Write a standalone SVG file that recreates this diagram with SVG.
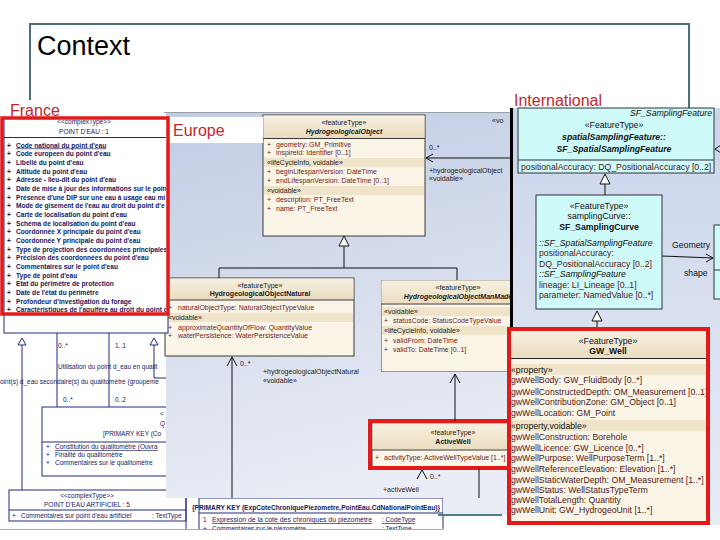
<svg xmlns="http://www.w3.org/2000/svg" width="720" height="540" viewBox="0 0 720 540">
<style>
text{font-family:"Liberation Sans",Arial,Helvetica,sans-serif}
.fr{font-size:6.6px;font-weight:bold;fill:#17175c}
.frn{font-size:6.5px;fill:#17175c}
.nv{stroke:#1f2a78;stroke-width:1;fill:none}
.wb{fill:#fff;stroke:#1f2a78;stroke-width:1}
.eu{font-size:7px;fill:#6a1c1c}
.eus{font-size:7px;fill:#1a1a1a}
.box{fill:#fbf5e8;stroke:#3a3a3a;stroke-width:1}
.band{fill:#efe3c9}
.cy{fill:#cffafa;stroke:#333;stroke-width:1}
.in{font-size:8.7px;fill:#4e1616}
.ins{font-size:8.7px;fill:#111}
.red{fill:none;stroke:#e21a1a;stroke-width:4}
.ln{stroke:#111;stroke-width:1;fill:none}
.tri{fill:#fff;stroke:#111;stroke-width:1}
.lab{font-size:16px;fill:#c0272d}
.c{text-anchor:middle}
.b{font-weight:bold}
.i{font-style:italic}
</style>
<defs>
<linearGradient id="euBg" x1="0" y1="0" x2="0.2" y2="1">
<stop offset="0" stop-color="#c1cce4"/>
<stop offset="1" stop-color="#eaedf5"/>
</linearGradient>
<linearGradient id="inBg" x1="0" y1="0" x2="0" y2="1">
<stop offset="0" stop-color="#cad4eb"/>
<stop offset="1" stop-color="#e8ecf5"/>
</linearGradient>
<linearGradient id="hdr" x1="0" y1="0" x2="0" y2="1">
<stop offset="0" stop-color="#f7f0e0"/>
<stop offset="1" stop-color="#eadcc0"/>
</linearGradient>
<clipPath id="cFr"><rect x="4" y="120" width="162" height="192"/></clipPath>
<clipPath id="cMM"><rect x="381" y="280" width="129" height="92"/></clipPath>
<clipPath id="cAW"><rect x="372" y="423" width="135" height="44"/></clipPath>
<clipPath id="cGW"><rect x="511" y="331" width="195" height="189"/></clipPath>
<clipPath id="cPK"><rect x="186" y="498" width="260" height="31"/></clipPath>
</defs>
<rect x="0" y="0" width="720" height="540" fill="#fff"/>

<g id="title">
<path d="M30,100 V24 H689 V108" stroke="#4d6f77" stroke-width="2" fill="none"/>
<text x="37" y="55" font-size="27" fill="#000">Context</text>
<text class="lab" x="514" y="106">International</text>
</g>

<g id="france-lower">
<g id="qualitometre">
<rect class="wb" x="42" y="407" width="140" height="69"/>
<text class="frn" x="160" y="416">&lt;</text>
<text class="frn" x="160" y="426">Q</text>
<text class="frn" x="103" y="436">[PRIMARY KEY (Co</text>
<line class="nv" x1="42" y1="442" x2="182" y2="442"/>
<text class="frn" x="46" y="449">+</text>
<text class="frn" x="55" y="449" text-decoration="underline">Constitution du qualitomètre (Ouvra</text>
<text class="frn" x="46" y="457">+</text>
<text class="frn" x="55" y="457">Finalité du qualitomètre</text>
<text class="frn" x="46" y="465">+</text>
<text class="frn" x="55" y="465">Commentaires sur le qualitomètre</text>
</g>
<g id="point-eau-artificiel">
<rect class="wb" x="9" y="490" width="177" height="31"/>
<text class="frn c" x="87" y="498">&lt;&lt;complexType&gt;&gt;</text>
<text class="frn c" x="87" y="507">POINT D'EAU ARTIFICIEL : 5</text>
<line class="nv" x1="9" y1="510" x2="186" y2="510"/>
<text class="frn" x="12" y="518">+</text>
<text class="frn" x="21" y="518">Commentaires sur point d'eau artificiel</text>
<text class="frn" x="152" y="518">: TextType</text>
</g>
<g id="pk-table">
<g clip-path="url(#cPK)">
<rect class="wb" x="199" y="498" width="244" height="40"/>
<line class="nv" x1="199" y1="513" x2="443" y2="513"/>
<text class="fr" x="192" y="510" textLength="248" lengthAdjust="spacingAndGlyphs">{PRIMARY KEY (ExpCoteChroniquePiezometre,PointEau.CdNationalPointEau)}</text>
<text class="frn" x="203" y="522">1</text>
<text class="frn" x="212" y="522" text-decoration="underline" textLength="160" lengthAdjust="spacingAndGlyphs">Expression de la cote des chroniques du piézomètre</text>
<text class="frn" x="382" y="522" text-decoration="underline">: CodeType</text>
<text class="frn" x="203" y="531">+</text>
<text class="frn" x="212" y="531">Commentaires sur le piézomètre</text>
<text class="frn" x="382" y="531">: TextType</text>
</g>
<line class="nv" x1="186" y1="498" x2="186" y2="529"/>
</g>
<line x1="0" y1="529.5" x2="443" y2="529.5" stroke="#aaa" stroke-width="1"/>
</g>

<g id="connectors-france">
<polygon points="22,338 18,345 26,345" fill="#fff" stroke="#1f2a78"/>
<path class="nv" d="M22,345 V490"/>
<path class="nv" d="M57,333 V407 M109,333 V407"/>
<polygon points="154,338 150,345 158,345" fill="#fff" stroke="#1f2a78"/>
<path class="nv" d="M154,345 V378 H170"/>
<text class="frn" x="58" y="348">0..*</text>
<text class="frn" x="115" y="348">1..1</text>
<text class="frn" x="58" y="369">Utilisation du point d_eau en qualit</text>
<text class="frn" x="0" y="384">oint(s) d_eau secondaire(s) du qualitomètre (groupeme</text>
<text class="frn" x="63" y="402">0..*</text>
<text class="frn" x="115" y="402">0..2</text>
</g>

<g id="europe-panel">
<path d="M166,112 H511 V515 H443 V498 H166 Z" fill="url(#euBg)"/>
<line x1="164" y1="112.5" x2="511" y2="112.5" stroke="#9aa0a8"/>
<line x1="438" y1="515" x2="502" y2="515" stroke="#4f7d84" stroke-width="2"/>
</g>

<g id="HydrogeologicalObject">
<rect class="box" x="263" y="115" width="162" height="121"/>
<rect x="263.5" y="115.5" width="161" height="22.5" fill="url(#hdr)"/>
<text class="eus c" x="344" y="125">«featureType»</text>
<text class="eus c b i" x="344" y="134">HydrogeologicalObject</text>
<line x1="263" y1="138.5" x2="425" y2="138.5" stroke="#3a3a3a"/>
<text class="eu" x="267" y="147">+</text><text class="eu" x="276" y="147">geometry: GM_Primitive</text>
<text class="eu" x="267" y="155">+</text><text class="eu" x="276" y="155">inspireId: Identifier [0..1]</text>
<rect class="band" x="264" y="158" width="160" height="9"/>
<text class="eus" x="267" y="165">«lifeCycleInfo, voidable»</text>
<text class="eu" x="267" y="174">+</text><text class="eu" x="276" y="174">beginLifespanVersion: DateTime</text>
<text class="eu" x="267" y="183">+</text><text class="eu" x="276" y="183">endLifespanVersion: DateTime [0..1]</text>
<rect class="band" x="264" y="186" width="160" height="9"/>
<text class="eus" x="267" y="193">«voidable»</text>
<text class="eu" x="267" y="202">+</text><text class="eu" x="276" y="202">description: PT_FreeText</text>
<text class="eu" x="267" y="211">+</text><text class="eu" x="276" y="211">name: PT_FreeText</text>
</g>

<g id="HydrogeologicalObjectNatural">
<rect class="box" x="165" y="278" width="189" height="78"/>
<rect x="165.5" y="278.5" width="188" height="21" fill="url(#hdr)"/>
<text class="eus c" x="260" y="288">«featureType»</text>
<text class="eus c b" x="260" y="296">HydrogeologicalObjectNatural</text>
<line x1="165" y1="300" x2="354" y2="300" stroke="#3a3a3a"/>
<text class="eu" x="168" y="310">+</text><text class="eu" x="178" y="310">naturalObjectType: NaturalObjectTypeValue</text>
<rect class="band" x="166" y="313" width="187" height="9"/>
<text class="eus" x="168" y="320">«voidable»</text>
<text class="eu" x="168" y="330">+</text><text class="eu" x="178" y="330">approximateQuantityOfFlow: QuantityValue</text>
<text class="eu" x="168" y="338">+</text><text class="eu" x="178" y="338">waterPersistence: WaterPersistenceValue</text>
</g>

<g id="HydrogeologicalObjectManMade">
<g clip-path="url(#cMM)">
<rect class="box" x="381" y="280" width="140" height="92"/>
<rect x="381.5" y="280.5" width="139" height="23" fill="url(#hdr)"/>
<text class="eus c" x="458" y="290">«featureType»</text>
<text class="eus c b i" x="458" y="299">HydrogeologicalObjectManMade</text>
<line x1="381" y1="304" x2="511" y2="304" stroke="#3a3a3a"/>
<rect class="band" x="382" y="307" width="130" height="9"/>
<text class="eus" x="384" y="314">«voidable»</text>
<text class="eu" x="384" y="323">+</text><text class="eu" x="393" y="323">statusCode: StatusCodeTypeValue</text>
<rect class="band" x="382" y="326" width="130" height="9"/>
<text class="eus" x="384" y="333">«lifeCycleInfo, voidable»</text>
<text class="eu" x="384" y="343">+</text><text class="eu" x="393" y="343">validFrom: DateTime</text>
<text class="eu" x="384" y="352">+</text><text class="eu" x="393" y="352">validTo: DateTime [0..1]</text>
</g>
</g>

<g id="ActiveWell">
<g clip-path="url(#cAW)">
<rect class="box" x="372" y="423" width="150" height="44"/>
<rect x="372.5" y="423.5" width="149" height="26" fill="url(#hdr)"/>
<text class="eus c" x="453" y="435">«featureType»</text>
<text class="eus c b" x="453" y="444">ActiveWell</text>
<line x1="372" y1="450" x2="510" y2="450" stroke="#3a3a3a"/>
<text class="eu" x="375" y="460">+</text><text class="eu" x="384" y="460">activityType: ActiveWellTypeValue [1..*]</text>
</g>
<rect class="red" x="370" y="421" width="139" height="47"/>
</g>

<g id="connectors-europe">
<polygon class="tri" points="344,236 339,246 349,246"/>
<path class="ln" d="M344,246 V268 M219,268 H457 M219,268 V278 M457,268 V280"/>
<path class="ln" d="M232,357 V498 M227,366 L232,357 L237,366"/>
<text class="eus" x="240" y="366">0..*</text>
<text class="eus" x="263" y="374">+hydrogeologicalObjectNatural</text>
<text class="eus" x="263" y="383">«voidable»</text>
<path class="ln" d="M455,374 V421 M450,383 L455,374 L460,383"/>
<path class="ln" d="M417,479 L422,470 L427,479 M479,469 V498"/>
<text class="eus" x="430" y="479">0..*</text>
<text class="eus" x="383" y="492">+activeWell</text>
<path class="ln" d="M510,158 H426 M433,154 L426,158 L433,162"/>
<text class="eus" x="429" y="150">0..*</text>
<text class="eus" x="429" y="173" font-size="6.5">+hydrogeologicalObject</text>
<text class="eus" x="429" y="181" font-size="6.5">«voidable»</text>
<text class="eus" x="492" y="123" font-size="5">«vo</text>
</g>

<g id="europe-label">
<rect x="167" y="117" width="96" height="26" fill="#fff"/>
<text class="lab" x="173" y="136">Europe</text>
</g>

<g id="france">
<text class="lab" x="10" y="116">France</text>
<rect class="wb" x="4" y="118" width="164" height="215"/>
<g clip-path="url(#cFr)">
<text class="frn c" x="84" y="124">&lt;&lt;complexType&gt;&gt;</text>
<text class="frn c" x="84" y="134" font-size="7.5">POINT D'EAU : 1</text>
<line class="nv" x1="4" y1="137.5" x2="168" y2="137.5"/>
<g class="fr">
<text x="7" y="147.5">+</text><text x="16" y="147.5" text-decoration="underline">Code national du point d'eau</text>
<text x="7" y="156.2">+</text><text x="16" y="156.2">Code europeen du point d'eau</text>
<text x="7" y="164.9">+</text><text x="16" y="164.9">Libellé du point d'eau</text>
<text x="7" y="173.5">+</text><text x="16" y="173.5">Altitude du point d'eau</text>
<text x="7" y="182.2">+</text><text x="16" y="182.2">Adresse - lieu-dit du point d'eau</text>
<text x="7" y="190.9">+</text><text x="16" y="190.9">Date de mise à jour des informations sur le point</text>
<text x="7" y="199.6">+</text><text x="16" y="199.6">Présence d'une DIP sur une eau à usage eau mi</text>
<text x="7" y="208.3">+</text><text x="16" y="208.3">Mode de gisement de l'eau au droit du point d'e</text>
<text x="7" y="217">+</text><text x="16" y="217">Carte de localisation du point d'eau</text>
<text x="7" y="225.6">+</text><text x="16" y="225.6">Schéma de localisation du point d'eau</text>
<text x="7" y="234.3">+</text><text x="16" y="234.3">Coordonnée X principale du point d'eau</text>
<text x="7" y="243">+</text><text x="16" y="243">Coordonnée Y principale du point d'eau</text>
<text x="7" y="251.7">+</text><text x="16" y="251.7">Type de projection des coordonnées principales</text>
<text x="7" y="260.4">+</text><text x="16" y="260.4">Précision des coordonnées du point d'eau</text>
<text x="7" y="269">+</text><text x="16" y="269">Commentaires sur le point d'eau</text>
<text x="7" y="277.7">+</text><text x="16" y="277.7">Type de point d'eau</text>
<text x="7" y="286.4">+</text><text x="16" y="286.4">Etat du périmètre de protection</text>
<text x="7" y="295.1">+</text><text x="16" y="295.1">Date de l'état du périmètre</text>
<text x="7" y="303.8">+</text><text x="16" y="303.8">Profondeur d'investigation du forage</text>
<text x="7" y="312.4">+</text><text x="16" y="312.4">Caractéristiques de l'aquifère au droit du point d</text>
</g>
</g>
<rect x="2" y="118" width="166" height="196" fill="none" stroke="#e21a1a" stroke-width="3.5"/>
</g>

<g id="international-panel">
<rect x="512" y="108" width="208" height="417" fill="url(#inBg)"/>
<line x1="511.5" y1="108" x2="511.5" y2="500" stroke="#000" stroke-width="3"/>
</g>

<g id="SF_SpatialSamplingFeature">
<rect class="cy" x="518" y="108" width="196" height="65"/>
<text class="ins i" x="712" y="116" font-size="7" text-anchor="end">SF_SamplingFeature</text>
<text class="ins c" x="614" y="128">«FeatureType»</text>
<text class="ins c b i" x="614" y="140">spatialSamplingFeature::</text>
<text class="ins c b i" x="614" y="152">SF_SpatialSamplingFeature</text>
<line x1="518" y1="160" x2="714" y2="160" stroke="#333"/>
<text class="in" x="521" y="170">positionalAccuracy: DQ_PositionalAccuracy [0..2]</text>
</g>

<g id="SF_SamplingCurve">
<rect class="cy" x="536" y="195" width="126" height="114"/>
<text class="ins c" x="599" y="209">«FeatureType»</text>
<text class="ins c" x="599" y="219">samplingCurve::</text>
<text class="ins c b" x="599" y="230">SF_SamplingCurve</text>
<text class="ins i" x="539" y="246">::SF_SpatialSamplingFeature</text>
<text class="in" x="539" y="256">positionalAccuracy:</text>
<text class="in" x="539" y="267">DQ_PositionalAccuracy [0..2]</text>
<text class="ins i" x="539" y="277">::SF_SamplingFeature</text>
<text class="in" x="539" y="288">lineage: LI_Lineage [0..1]</text>
<text class="in" x="539" y="298">parameter: NamedValue [0..*]</text>
</g>

<g id="geometry-target">
<rect class="cy" x="714" y="225" width="12" height="74"/>
<line x1="714" y1="270" x2="720" y2="270" stroke="#333"/>
</g>

<g id="GW_Well">
<rect x="510" y="330" width="197" height="192" fill="#fbf5e8"/>
<rect x="510" y="330" width="197" height="28" fill="url(#hdr)"/>
<text class="ins c" x="608" y="344">«FeatureType»</text>
<text class="ins c b" x="608" y="354" font-size="9.5">GW_Well</text>
<line x1="510" y1="358.5" x2="707" y2="358.5" stroke="#222"/>
<g clip-path="url(#cGW)">
<rect class="band" x="510" y="364" width="197" height="11"/>
<text class="ins" x="511" y="373">«property»</text>
<text class="in" x="511" y="383">gwWellBody: GW_FluidBody [0..*]</text>
<text class="in" x="511" y="395">gwWellConstructedDepth: OM_Measurement [0..1]</text>
<text class="in" x="511" y="405">gwWellContributionZone: GM_Object [0..1]</text>
<text class="in" x="511" y="416">gwWellLocation: GM_Point</text>
<rect class="band" x="510" y="420" width="197" height="11"/>
<text class="ins" x="511" y="429">«property,voidable»</text>
<text class="in" x="511" y="440">gwWellConstruction: Borehole</text>
<text class="in" x="511" y="451">gwWellLicence: GW_Licence [0..*]</text>
<text class="in" x="511" y="461">gwWellPurpose: WellPurposeTerm [1..*]</text>
<text class="in" x="511" y="472">gwWellReferenceElevation: Elevation [1..*]</text>
<text class="in" x="511" y="483">gwWellStaticWaterDepth: OM_Measurement [1..*]</text>
<text class="in" x="511" y="493">gwWellStatus: WellStatusTypeTerm</text>
<text class="in" x="511" y="503">gwWellTotalLength: Quantity</text>
<text class="in" x="511" y="513">gwWellUnit: GW_HydrogeoUnit [1..*]</text>
</g>
<rect class="red" x="509" y="329" width="199" height="194"/>
</g>

<g id="connectors-international">
<polygon class="tri" points="605,174 600,184 610,184"/>
<path class="ln" d="M605,184 V195"/>
<polygon class="tri" points="597,311 592,321 602,321"/>
<path class="ln" d="M597,321 V327"/>
<path class="ln" d="M662,256 L713,258 M706,254 L713,258 L706,262"/>
<text class="ins" x="672" y="248" font-size="7">Geometry</text>
<text class="ins" x="684" y="276" font-size="6.5">shape</text>
<path class="ln" d="M721,145 L715,149 L721,153"/>
</g>
</svg>
